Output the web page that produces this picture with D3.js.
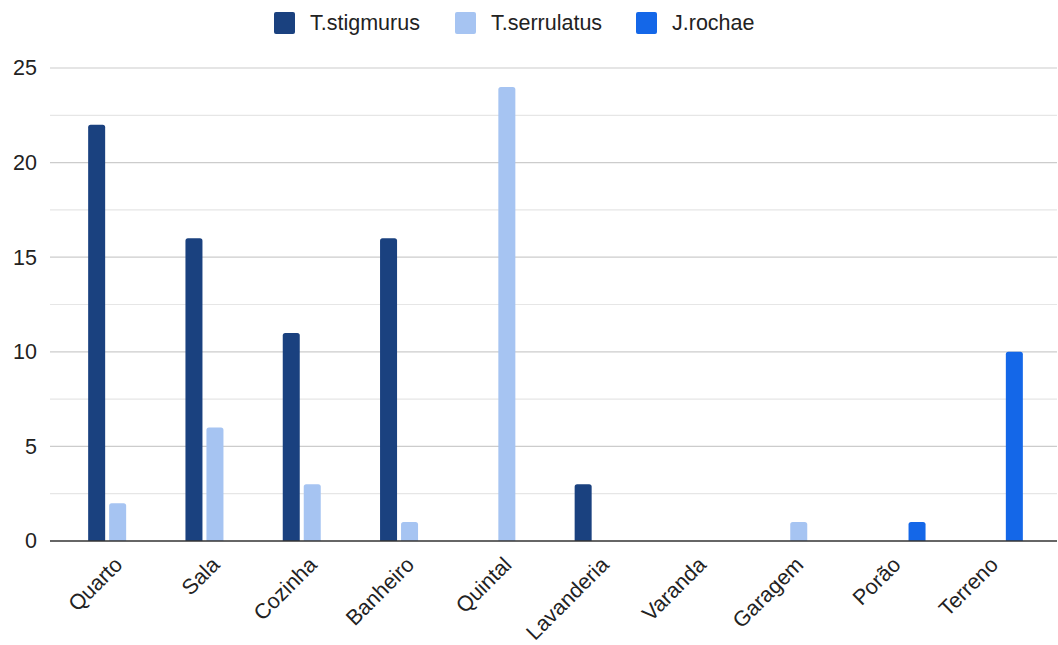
<!DOCTYPE html>
<html>
<head>
<meta charset="utf-8">
<script src="https://cdn.jsdelivr.net/npm/d3@7"></script>
<style>
  html, body { margin: 0; padding: 0; background: #fff; }
  svg { display: block; font-family: "Liberation Sans", Arial, sans-serif; }
</style>
</head>
<body>
<svg id="chart" width="1058" height="645"></svg>
<script>
// Scorpion sightings by location in the house
const categories = ["Quarto", "Sala", "Cozinha", "Banheiro", "Quintal", "Lavanderia", "Varanda", "Garagem", "Porão", "Terreno"];
const seriesNames = ["T.stigmurus", "T.serrulatus", "J.rochae"];
const stigmurus  = [22, 16, 11, 16, 0, 3, 0, 0, 0, 0];
const serrulatus = [2, 6, 3, 1, 24, 0, 0, 1, 0, 0];
const rochae     = [0, 0, 0, 0, 0, 0, 0, 0, 1, 10];
const yTicks = [0, 5, 10, 15, 20, 25];
const yMinor = [2.5, 7.5, 12.5, 17.5, 22.5];
const colors = ["#1a417f", "#a6c4f2", "#1467e8"];

const seriesValues = [stigmurus, serrulatus, rochae];

const svg = d3.select("#chart");
const gridLeft = 50, gridRight = 1057;
const plotTop = 68, plotBottom = 541;
const fontSize = 21.5;

const x = d3.scaleBand().domain(categories).range([69, 1042]).paddingInner(0).paddingOuter(0);
const xs = d3.scaleBand().domain(seriesNames).range([0, 59]).paddingInner(0.19);
// center the 3-bar group inside each band
const groupOffset = (x.bandwidth() - 59) / 2;
const y = d3.scaleLinear().domain([0, 25]).range([plotBottom, plotTop]);

// minor gridlines
svg.append("g").selectAll("line").data(yMinor).join("line")
  .attr("x1", gridLeft).attr("x2", gridRight)
  .attr("y1", d => y(d)).attr("y2", d => y(d))
  .attr("stroke", "#e6e6e6").attr("stroke-width", 1.2);

// major gridlines
svg.append("g").selectAll("line").data(yTicks.filter(d => d > 0)).join("line")
  .attr("x1", gridLeft).attr("x2", gridRight)
  .attr("y1", d => y(d)).attr("y2", d => y(d))
  .attr("stroke", "#cccccc").attr("stroke-width", 1.2);

// y axis labels
const yAxis = d3.axisLeft(y).tickValues(yTicks).tickSize(0).tickPadding(0);
const gy = svg.append("g").attr("transform", `translate(37,0)`).call(yAxis);
gy.select(".domain").remove();
gy.selectAll("text").attr("font-size", fontSize).attr("fill", "#222")
  .attr("font-family", "\"Liberation Sans\", Arial, sans-serif");

// rounded-top bar path
function barPath(x0, w, yTop, yBase, r) {
  const h = yBase - yTop;
  if (h <= 0) return "";
  const rr = Math.min(r, h, w / 2);
  return `M${x0},${yBase}V${yTop + rr}Q${x0},${yTop} ${x0 + rr},${yTop}H${x0 + w - rr}Q${x0 + w},${yTop} ${x0 + w},${yTop + rr}V${yBase}Z`;
}

const barData = [];
categories.forEach((c, i) => {
  seriesNames.forEach((s, j) => {
    barData.push({ cat: c, series: s, value: seriesValues[j][i], color: colors[j] });
  });
});

svg.append("g").selectAll("path").data(barData).join("path")
  .attr("d", d => barPath(x(d.cat) + groupOffset + xs(d.series), xs.bandwidth(), y(d.value), y(0), 2.5))
  .attr("fill", d => d.color);

// baseline
svg.append("line")
  .attr("x1", gridLeft).attr("x2", gridRight)
  .attr("y1", y(0)).attr("y2", y(0))
  .attr("stroke", "#333").attr("stroke-width", 1.5);

// x axis labels, rotated
svg.append("g").selectAll("text").data(categories).join("text")
  .attr("transform", d => `translate(${x(d) + x.bandwidth() / 2 + 6},${566}) rotate(-45)`)
  .attr("text-anchor", "end")
  .attr("font-size", fontSize)
  .attr("fill", "#222")
  .text(d => d);

// legend
const legendX = [274, 455, 636];
const lg = svg.append("g");
seriesNames.forEach((s, j) => {
  lg.append("rect")
    .attr("x", legendX[j]).attr("y", 12)
    .attr("width", 21).attr("height", 22)
    .attr("rx", 2).attr("fill", colors[j]);
  lg.append("text")
    .attr("x", legendX[j] + 36).attr("y", 29.5)
    .attr("font-size", fontSize).attr("fill", "#222")
    .text(s);
});
</script>
</body>
</html>
